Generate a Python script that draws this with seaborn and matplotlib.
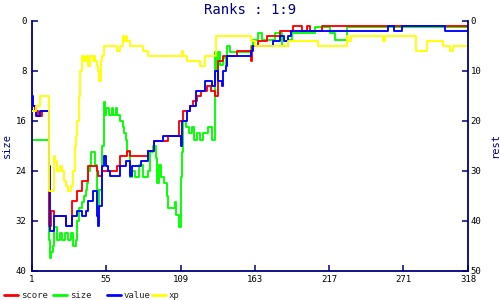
import matplotlib
matplotlib.use("Agg")
import matplotlib.pyplot as plt
import seaborn as sns
from matplotlib.lines import Line2D

# ---------------- data (turn -> rank, step series) ----------------
turn_score = [1, 3, 5, 8, 13, 15, 17, 26, 30, 34, 37, 42, 48, 49, 52, 63, 65, 70, 72, 85,
              90, 100, 108, 111, 116, 118, 121, 124, 128, 131, 134, 136, 140, 150, 160, 161,
              165, 172, 181, 191, 197, 201, 203, 212, 318]
score = [17, 18, 19, 18, 41, 38, 39, 41, 36, 34, 32, 29, 30, 31, 30, 29, 27, 26, 27, 26,
         24, 23, 20, 18, 17, 16, 15, 14, 13, 14, 15, 8, 7, 6, 8, 5,
         4, 3, 2, 1, 2, 1, 2, 1, 1]

turn_size = [1, 13, 14, 15, 16, 17, 19, 21, 23, 25, 27, 29, 31, 33, 34, 35, 37, 39, 40, 41,
             42, 43, 44, 47, 48, 49, 50, 52, 53, 54, 55, 57, 59, 60, 62, 63, 65, 67, 68, 69,
             70, 72, 74, 76, 79, 82, 85, 87, 89, 91, 92, 93, 95, 97, 99, 100, 105, 106, 108,
             109, 110, 111, 113, 115, 117, 119, 121, 123, 125, 129, 132, 134, 135, 136, 138,
             140, 142, 143, 145, 160, 162, 165, 168, 178, 183, 187, 190, 207, 218, 221, 230, 318]
size = [19, 35, 38, 37, 36, 33, 35, 34, 35, 34, 35, 34, 36, 35, 32, 30, 29, 28, 27, 26,
        24, 23, 21, 23, 27, 30, 27, 20, 13, 15, 14, 15, 14, 15, 14, 15, 16, 17, 18, 19,
        21, 25, 24, 25, 23, 25, 24, 21, 20, 22, 26, 23, 25, 26, 28, 30, 29, 31, 33,
        25, 21, 16, 17, 18, 17, 19, 18, 19, 18, 17, 19, 5, 8, 5, 7,
        6, 7, 4, 5, 4, 3, 2, 3, 2, 4, 3, 2, 1, 2, 3, 1, 1]

turn_value = [1, 2, 4, 7, 13, 14, 17, 26, 30, 34, 37, 40, 42, 45, 48, 49, 50, 52, 53, 55,
              56, 58, 65, 69, 72, 74, 80, 85, 90, 96, 109, 110, 114, 116, 120, 127, 132, 134,
              136, 139, 140, 142, 143, 160, 162, 176, 181, 184, 187, 189, 260, 264, 270, 301, 318]
value = [15, 17, 19, 18, 29, 42, 39, 41, 39, 38, 39, 38, 36, 34, 39, 41, 37, 29, 27, 29,
         30, 31, 29, 28, 31, 29, 28, 26, 24, 23, 25, 20, 18, 17, 14, 12, 13, 10,
         12, 13, 10, 9, 7, 6, 5, 4, 3, 4, 3, 2, 1, 2, 1, 2, 2]

turn_xp = [1, 4, 7, 13, 17, 18, 19, 21, 23, 24, 26, 27, 29, 31, 32, 33, 34, 35, 36, 37,
           39, 40, 42, 43, 45, 46, 47, 48, 49, 50, 51, 52, 53, 63, 65, 67, 68, 69, 70, 71,
           72, 82, 85, 110, 111, 114, 123, 127, 135, 160, 163, 187, 209, 230, 231, 233, 256,
           258, 280, 288, 300, 305, 307, 318]
xp = [18, 17, 15, 34, 27, 28, 30, 29, 30, 32, 33, 34, 33, 30, 25, 23, 20, 15, 10, 7,
      8, 7, 9, 7, 8, 7, 8, 9, 10, 12, 8, 7, 5, 6, 5, 3, 4, 3, 4, 4,
      5, 6, 7, 6, 7, 8, 9, 7, 3, 4, 5, 4, 5, 3, 4, 3, 4,
      3, 6, 4, 5, 6, 5, 5]

x_ticks = [1, 55, 109, 163, 217, 271, 318]
size_ticks = [0, 8, 16, 24, 32, 40]
rest_ticks = [0, 10, 20, 30, 40, 50]
title = "Ranks : 1:9"
series_names = ["score", "size", "value", "xp"]
colors = {"score": "#FF0000", "size": "#00FF00", "value": "#0000FF", "xp": "#FFFF00"}

# ---------------- style ----------------
sns.set_theme(style="white")
plt.rcParams['font.family'] = ['DejaVu Sans Mono', 'DejaVu Sans']
NAVY = "#000080"
LW = 1.35

fig = plt.figure(figsize=(5, 3), dpi=100)
fig.patch.set_facecolor("white")
ax = fig.add_axes([0.064, 0.0967, 0.872, 0.8333])
ax2 = ax.twinx()

sns.lineplot(x=turn_size, y=size, ax=ax, color=colors["size"], lw=LW,
             drawstyle="steps-post", estimator=None, sort=False)
sns.lineplot(x=turn_score, y=score, ax=ax2, color=colors["score"], lw=LW,
             drawstyle="steps-post", estimator=None, sort=False)
sns.lineplot(x=turn_value, y=value, ax=ax2, color=colors["value"], lw=LW,
             drawstyle="steps-post", estimator=None, sort=False)
sns.lineplot(x=turn_xp, y=xp, ax=ax2, color=colors["xp"], lw=LW,
             drawstyle="steps-post", estimator=None, sort=False)

ax.set_xlim(1, 318)
ax.set_ylim(40, 0)
ax2.set_ylim(50, 0)
ax.set_xticks(x_ticks)
ax.set_xticklabels([str(t) for t in x_ticks])
ax.set_yticks(size_ticks)
ax.set_yticklabels([str(t) for t in size_ticks])
ax2.set_yticks(rest_ticks)
ax2.set_yticklabels([str(t) for t in rest_ticks])

for a in (ax, ax2):
    for s in a.spines.values():
        s.set_visible(False)
ax.spines["left"].set_visible(True)
ax.spines["bottom"].set_visible(True)
ax2.spines["right"].set_visible(True)
for s in (ax.spines["left"], ax.spines["bottom"], ax2.spines["right"]):
    s.set_color(NAVY)
    s.set_linewidth(1.3)

ax.tick_params(axis="both", direction="in", length=4, width=1.1, color=NAVY,
               labelsize=6.5, labelcolor="black", pad=3)
ax.tick_params(axis="y", left=True, right=False, pad=4)
ax.tick_params(axis="x", bottom=True, top=False, pad=3)
ax2.tick_params(axis="y", direction="in", length=4, width=1.1, color=NAVY,
                labelsize=6.5, labelcolor="black", pad=2, right=True, left=False)
ax.grid(False)
ax2.grid(False)

ax.set_xlabel("")
ax.set_ylabel("size", color=NAVY, fontsize=7.5)
ax.yaxis.set_label_coords(-0.047, 0.5)
ax2.set_ylabel("rest", color=NAVY, fontsize=7.5, rotation=90)
ax2.yaxis.set_label_coords(1.05, 0.5)

fig.text(0.5, 1 - 10 / 300, title, ha="center", va="center", color=NAVY, fontsize=10)

# legend entries placed individually
legend_x = {"score": 4, "size": 53, "value": 107, "xp": 152}
for name in series_names:
    h = Line2D([], [], color=colors[name], lw=2)
    fig.legend(handles=[h], labels=[name], loc="center left",
               bbox_to_anchor=(legend_x[name] / 500, 1 - 295.5 / 300),
               frameon=False, fontsize=6.5, handlelength=1.5, handletextpad=0.35,
               borderpad=0, borderaxespad=0)

fig.savefig("out.png", dpi=100)
